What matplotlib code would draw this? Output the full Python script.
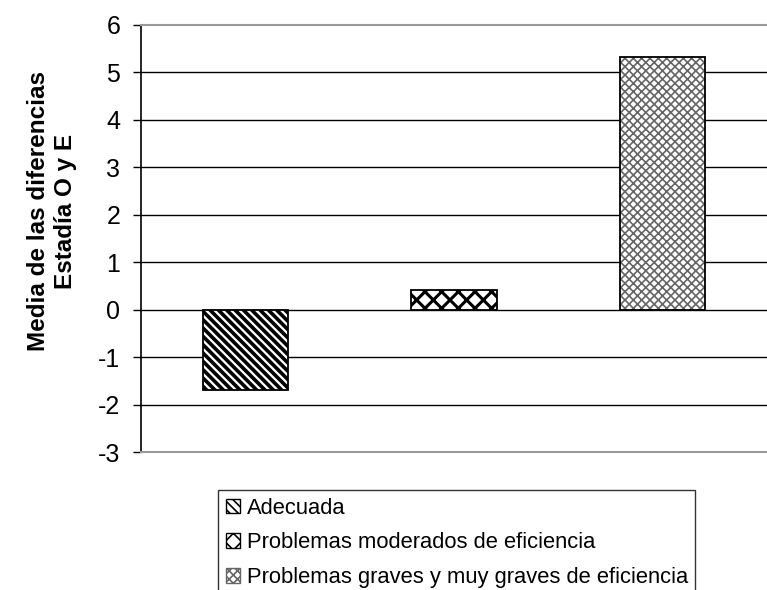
import matplotlib.pyplot as plt
import numpy as np
from matplotlib.patches import Patch

# datos
categorias = ['Adecuada',
              'Problemas moderados de eficiencia',
              'Problemas graves y muy graves de eficiencia']
medias = [-1.7, 0.42, 5.33]
tramas = ['\\\\\\\\', 'xx', 'xxxx']
color_trama = ['black', 'black', '#666666']
yticks = list(range(-3, 7))

plt.rcParams['font.family'] = ['Liberation Sans', 'DejaVu Sans']

fig = plt.figure(figsize=(7.67, 5.9), dpi=100)
ax = fig.add_axes([141 / 767, 1 - 452 / 590, 1 - 141 / 767, (452 - 25) / 590])

x = np.arange(len(categorias))
barras = []
for i in range(len(categorias)):
    plt.rcParams['hatch.linewidth'] = 2.6 if i == 0 else (2.2 if i == 1 else 1.2)
    b = ax.bar(x[i], medias[i], width=0.41, color='white', hatch=tramas[i],
               edgecolor=color_trama[i], linewidth=0, zorder=3)
    barras.append(b[0])
# contorno negro de las barras
ax.bar(x, medias, width=0.41, fill=False, edgecolor='black', linewidth=1.3, zorder=4)

ax.set_xlim(-0.5, 2.5)
ax.set_ylim(-3, 6)
ax.set_yticks(yticks)
ax.set_yticklabels([str(v) for v in yticks], fontsize=18)
ax.set_xticks([])
for v in yticks[1:-1]:
    ax.axhline(v, color='black', linewidth=1, zorder=1)

ax.spines['right'].set_visible(False)
ax.spines['top'].set_color('#999999')
ax.spines['bottom'].set_color('#999999')
ax.spines['top'].set_linewidth(1.5)
ax.spines['bottom'].set_linewidth(1.5)
ax.spines['left'].set_color('black')
ax.spines['left'].set_linewidth(1.2)
ax.tick_params(axis='y', length=6, width=1, pad=9, direction='out')

fig.text(52 / 767, 1 - 211 / 590, 'Media de las diferencias\nEstadía O y E',
         rotation=90, ha='center', va='center', fontsize=17.5, fontweight='bold',
         linespacing=1.25)

handles = [Patch(facecolor='white', edgecolor=color_trama[i], hatch=tramas[i])
           for i in range(len(categorias))]
leg = fig.legend(handles, categorias, loc='upper left',
                 bbox_to_anchor=(218 / 767, 1 - 490 / 590), fontsize=15.8,
                 frameon=True, fancybox=False, edgecolor='black',
                 handlelength=0.65, handleheight=0.65, handletextpad=0.3,
                 labelspacing=0.62, borderpad=0.35, borderaxespad=0)
leg.get_frame().set_linewidth(1)

fig.savefig('out.png', dpi=100)
